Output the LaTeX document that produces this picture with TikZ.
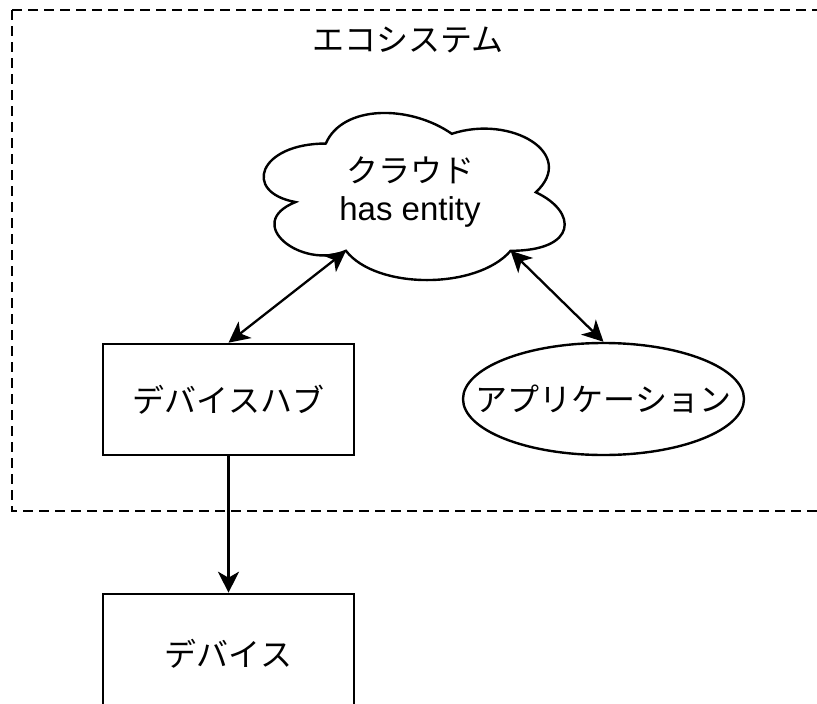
\documentclass[tikz,border=0pt]{standalone}
\usepackage{fontspec}
\setmainfont{Liberation Sans}
\newfontfamily\jpfont{Noto Sans CJK JP}
\usetikzlibrary{arrows.meta,shapes.geometric}
\begin{document}
\begin{tikzpicture}[x=1pt,y=-1pt,
  jptext/.style={font=\jpfont\fontsize{32}{38}\selectfont},
  boxnode/.style={draw, line width=2.6pt, minimum width=251pt, minimum height=111pt, inner sep=0pt, jptext},
  ellnode/.style={draw, ellipse, line width=2.4pt, minimum width=281pt, minimum height=112pt, inner sep=0pt},
  tip/.style={},
  conn/.style={line width=2.3pt, arrows={Stealth[length=21pt,width=21pt,inset=6pt]-Stealth[length=21pt,width=21pt,inset=6pt]}},
  oneway/.style={line width=2.3pt, -{Stealth[length=21pt,width=21pt,inset=6pt]}},
  boundary/.style={line width=2pt, dash pattern=on 10pt off 6pt}]
\clip (0,0) rectangle (817,704);
% ecosystem boundary
\draw[boundary] (12,10) -- (840,10);
\draw[boundary] (12,10) -- (12,511) -- (840,511);
\node[jptext] (title) at (408,40) {エコシステム};
% cloud
\node[minimum width=336pt, minimum height=195pt, inner sep=0pt, align=center,
      font=\fontsize{33}{38}\selectfont] (cloud) at (410,192.5)
      {{\jpfont\fontsize{32}{38}\selectfont クラウド}\\has entity};
\begin{scope}[shift={(cloud.north west)}, x=336pt, y=-195pt]
  \draw[line width=2.4pt] (0.25,0.25) .. controls (0.05,0.25) and (0,0.5) .. (0.16,0.55)
    .. controls (0,0.66) and (0.18,0.9) .. (0.31,0.8)
    .. controls (0.4,1) and (0.7,1) .. (0.8,0.8)
    .. controls (1,0.8) and (1,0.6) .. (0.875,0.5)
    .. controls (1,0.3) and (0.8,0.1) .. (0.625,0.2)
    .. controls (0.5,0.05) and (0.3,0.05) .. (0.25,0.25) -- cycle;
  \coordinate (cl) at (0.31,0.8);
  \coordinate (cr) at (0.8,0.8);
\end{scope}
% nodes
\node[boxnode] (hub) at (228.5,399.5) {デバイスハブ};
\node[ellnode] (app) at (603.5,399) {};
\node[jptext] (applabel) at (app.center) {アプリケーション};
\node[boxnode, minimum height=120pt] (dev) at (228.5,654) {デバイス};
% connectors
\draw[conn] (hub.north) -- (cl);
\draw[conn] (app.north) -- (cr);
\draw[oneway] (hub.south) -- (dev.north);
\end{tikzpicture}
\end{document}
